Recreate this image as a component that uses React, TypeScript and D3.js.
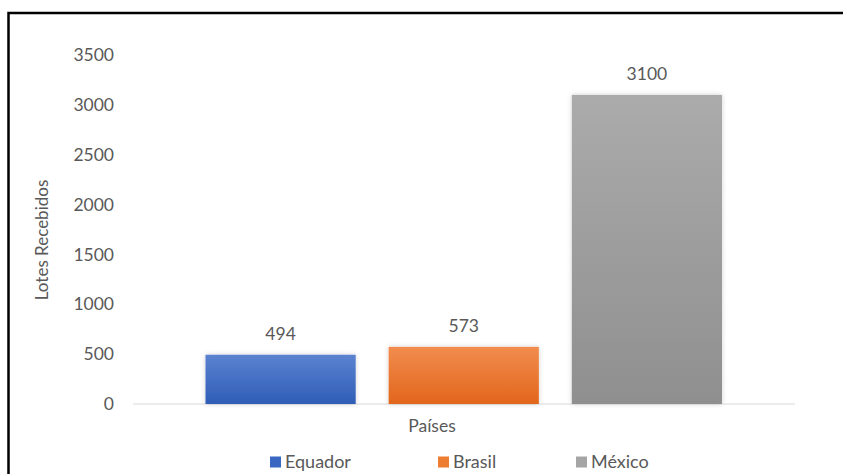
import React, { useEffect, useRef } from 'react';
import * as d3 from 'd3';

const countries = ['Equador', 'Brasil', 'México'];
const lotes = [494, 573, 3100];
const yTicks = [0, 500, 1000, 1500, 2000, 2500, 3000, 3500];
const topColors = ['#5b82d0', '#f28c4e', '#ababab'];
const bottomColors = ['#2f5db7', '#e2661c', '#8f8f8f'];
const legendColors = ['#3a67c2', '#ed7d31', '#a5a5a5'];

const font = 'Lato, "Open Sans", sans-serif';
const textColor = '#595959';

const App: React.FC = () => {
    const chartRef = useRef<SVGSVGElement | null>(null);

    useEffect(() => {
        if (!chartRef.current) return;
        const width = 843;
        const height = 474;

        const svg = d3.select(chartRef.current)
            .attr('width', width)
            .attr('height', height)
            .style('display', 'block')
            .style('background', '#fff');
        svg.selectAll('*').remove();

        const defs = svg.append('defs');
        countries.forEach((c, i) => {
            const g = defs.append('linearGradient')
                .attr('id', `grad-${i}`)
                .attr('x1', '0%').attr('y1', '0%')
                .attr('x2', '0%').attr('y2', '100%');
            g.append('stop').attr('offset', '0%').attr('stop-color', topColors[i]);
            g.append('stop').attr('offset', '100%').attr('stop-color', bottomColors[i]);
        });
        const shadow = defs.append('filter').attr('id', 'shadow')
            .attr('x', '-10%').attr('y', '-10%').attr('width', '120%').attr('height', '120%');
        shadow.append('feDropShadow')
            .attr('dx', 0).attr('dy', 0).attr('stdDeviation', 2.5)
            .attr('flood-color', '#000').attr('flood-opacity', 0.18);

        // frame
        svg.append('rect')
            .attr('x', 8.5).attr('y', 13)
            .attr('width', 845).attr('height', 480)
            .attr('fill', 'none')
            .attr('stroke', '#000')
            .attr('stroke-width', 2.5);

        const y = d3.scaleLinear().domain([0, 3500]).range([404, 55]);
        const x = d3.scaleBand<string>()
            .domain(countries)
            .range([205.5, 722])
            .paddingInner(0.18)
            .paddingOuter(0);

        // baseline
        svg.append('line')
            .attr('x1', 133).attr('x2', 795)
            .attr('y1', y(0)).attr('y2', y(0))
            .attr('stroke', '#d9d9d9')
            .attr('stroke-width', 1.2);

        svg.selectAll('.y-tick')
            .data(yTicks)
            .enter().append('text')
            .attr('class', 'y-tick')
            .attr('x', 114)
            .attr('y', d => y(d))
            .attr('dy', '0.35em')
            .attr('text-anchor', 'end')
            .style('font-family', font)
            .style('font-size', '17.5px')
            .style('fill', textColor)
            .text(d => d);

        svg.selectAll('.bar')
            .data(lotes)
            .enter().append('rect')
            .attr('class', 'bar')
            .attr('x', (d, i) => x(countries[i])!)
            .attr('y', d => y(d))
            .attr('width', x.bandwidth())
            .attr('height', d => y(0) - y(d))
            .attr('fill', (d, i) => `url(#grad-${i})`)
            .attr('filter', 'url(#shadow)');

        svg.selectAll('.bar-label')
            .data(lotes)
            .enter().append('text')
            .attr('class', 'bar-label')
            .attr('x', (d, i) => x(countries[i])! + x.bandwidth() / 2)
            .attr('y', d => y(d) - 21)
            .attr('dy', '0.35em')
            .attr('text-anchor', 'middle')
            .style('font-family', font)
            .style('font-size', '17.5px')
            .style('fill', textColor)
            .text(d => d);

        svg.append('text')
            .attr('transform', 'translate(42, 240) rotate(-90)')
            .attr('text-anchor', 'middle')
            .attr('dy', '0.35em')
            .style('font-family', font)
            .style('font-size', '17px')
            .style('fill', textColor)
            .text('Lotes Recebidos');

        svg.append('text')
            .attr('x', 432)
            .attr('y', 426)
            .attr('dy', '0.35em')
            .attr('text-anchor', 'middle')
            .style('font-family', font)
            .style('font-size', '17.5px')
            .style('fill', textColor)
            .text('Países');

        const legendX = [270, 438, 576];
        const legend = svg.selectAll('.legend')
            .data(countries)
            .enter().append('g')
            .attr('class', 'legend')
            .attr('transform', (d, i) => `translate(${legendX[i]}, 462)`);
        legend.append('rect')
            .attr('x', 0).attr('y', -5.5)
            .attr('width', 11).attr('height', 11)
            .attr('fill', (d, i) => legendColors[i]);
        legend.append('text')
            .attr('x', 15)
            .attr('dy', '0.35em')
            .style('font-family', font)
            .style('font-size', '18px')
            .style('fill', textColor)
            .text(d => d);
    }, []);

    return <svg ref={chartRef} style={{ position: 'absolute', left: 0, top: 0 }}></svg>;
};

export default App;
